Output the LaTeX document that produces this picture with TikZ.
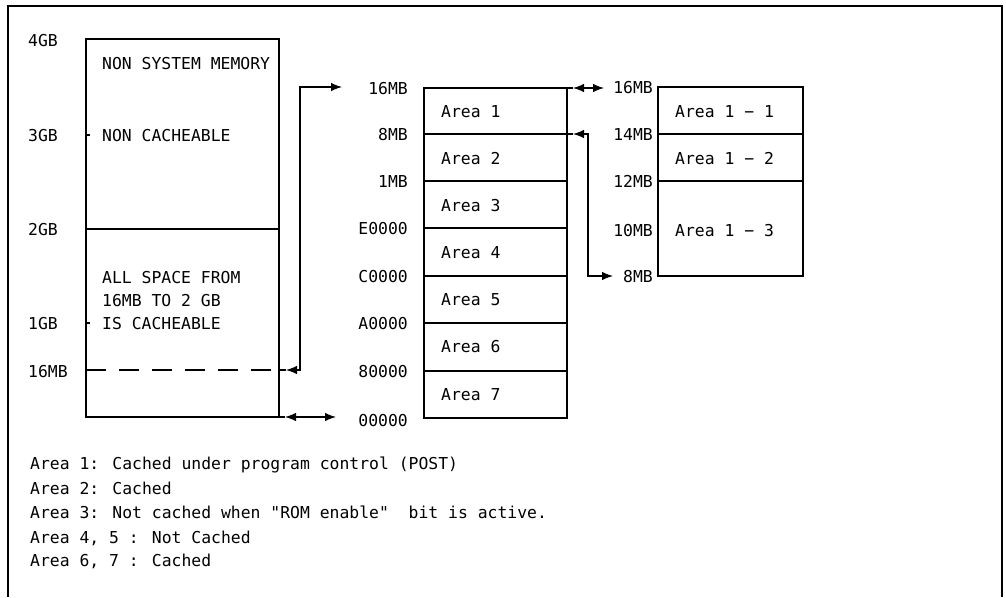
\documentclass[tikz,border=0pt]{standalone}
\usepackage{fontspec}
\newfontfamily\monof{DejaVu Sans Mono}
\usetikzlibrary{arrows.meta}
\begin{document}
\begin{tikzpicture}[x=1pt,y=-1pt,
  txt/.style={font=\monof\fontsize{16.4}{18}\selectfont, inner sep=0pt},
  lt/.style={txt, anchor=base west},
  rt/.style={txt, anchor=base east},
  ln/.style={line width=1.1pt},
  arr/.style={ln, {Latex[length=11pt,width=8.5pt]}-{Latex[length=11pt,width=8.5pt]}}]
\useasboundingbox (0,0) rectangle (1006,597);
% frame
\draw[ln] (8,597) -- (8,6) -- (1002,6) -- (1002,597);

% left scale labels
\node[lt] (g4) at (28,46) {4GB};
\node[lt] (g3) at (28,141) {3GB};
\node[lt] (g2) at (28,235) {2GB};
\node[lt] (g1) at (28,329) {1GB};
\node[lt] (m16a) at (28,377) {16MB};

% left box
\draw[ln] (86,39) rectangle (279,417);
\draw[ln] (86,229) -- (279,229);
\draw[ln, dash pattern=on 20pt off 13pt] (86,370) -- (279,370);
\draw[ln] (86,135) -- (90,135);
\draw[ln] (86,323) -- (90,323);
\node[lt] (t1) at (102,69) {NON SYSTEM MEMORY};
\node[lt] (t2) at (102,141) {NON CACHEABLE};
\node[lt] (t3) at (102,283) {ALL SPACE FROM};
\node[lt] (t4) at (102,306) {16MB TO 2 GB};
\node[lt] (t5) at (102,329) {IS CACHEABLE};

% middle box
\draw[ln] (424,88) rectangle (567,418);
\foreach \y in {134,181,228,276,323,371} \draw[ln] (424,\y) -- (567,\y);
\node[rt] (a16) at (408,94) {16MB};
\node[rt] (a8) at (408,140) {8MB};
\node[rt] (a1) at (408,187) {1MB};
\node[rt] (aE) at (408,234) {E0000};
\node[rt] (aC) at (408,282) {C0000};
\node[rt] (aA) at (408,329) {A0000};
\node[rt] (a80) at (408,377) {80000};
\node[rt] (a00) at (408,426) {00000};
\node[lt] (r1) at (441,117) {Area 1};
\node[lt] (r2) at (441,164) {Area 2};
\node[lt] (r3) at (441,211) {Area 3};
\node[lt] (r4) at (441,258) {Area 4};
\node[lt] (r5) at (441,305) {Area 5};
\node[lt] (r6) at (441,352) {Area 6};
\node[lt] (r7) at (441,400) {Area 7};

% right box
\draw[ln] (658,87) rectangle (803,276);
\draw[ln] (658,134) -- (803,134);
\draw[ln] (658,181) -- (803,181);
\node[rt] (b16) at (653,93) {16MB};
\node[rt] (b14) at (653,140) {14MB};
\node[rt] (b12) at (653,187) {12MB};
\node[rt] (b10) at (653,236) {10MB};
\node[rt] (b8) at (653,282) {8MB};
\node[lt] (s1) at (675,117) {Area 1 − 1};
\node[lt] (s2) at (675,164) {Area 1 − 2};
\node[lt] (s3) at (675,236) {Area 1 − 3};

% connectors
\coordinate (d0) at (279,370);
\coordinate (d1) at (286,370);
\coordinate (d2) at (300,370);
\coordinate (d3) at (300,87);
\coordinate (d4) at (342,87);
\draw[ln] (d0) -- (d1);
\draw[arr] (d1) -- (d2) -- (d3) -- (d4);

\coordinate (e0) at (279,417);
\coordinate (e1) at (285,417);
\coordinate (e2) at (336,417);
\draw[ln] (e0) -- (e1);
\draw[arr] (e1) -- (e2);

\coordinate (f0) at (567,88);
\coordinate (f1) at (573,88);
\coordinate (f2) at (604,88);
\draw[ln] (f0) -- (f1);
\draw[arr] (f1) -- (f2);

\coordinate (h0) at (567,134);
\coordinate (h1) at (573,134);
\coordinate (h2) at (588,134);
\coordinate (h3) at (588,276);
\coordinate (h4) at (613,276);
\draw[ln] (h0) -- (h1);
\draw[arr] (h1) -- (h2) -- (h3) -- (h4);

% legend
\node[lt] (n1) at (30,469) {Area 1: Cached under program control (POST)};
\node[lt] (n2) at (30,494) {Area 2: Cached};
\node[lt] (n3) at (30,518) {Area 3: Not cached when "ROM enable"\ \ bit is active.};
\node[lt] (n4) at (30,543) {Area 4, 5 : Not Cached};
\node[lt] (n5) at (30,566) {Area 6, 7 : Cached};
\end{tikzpicture}
\end{document}
